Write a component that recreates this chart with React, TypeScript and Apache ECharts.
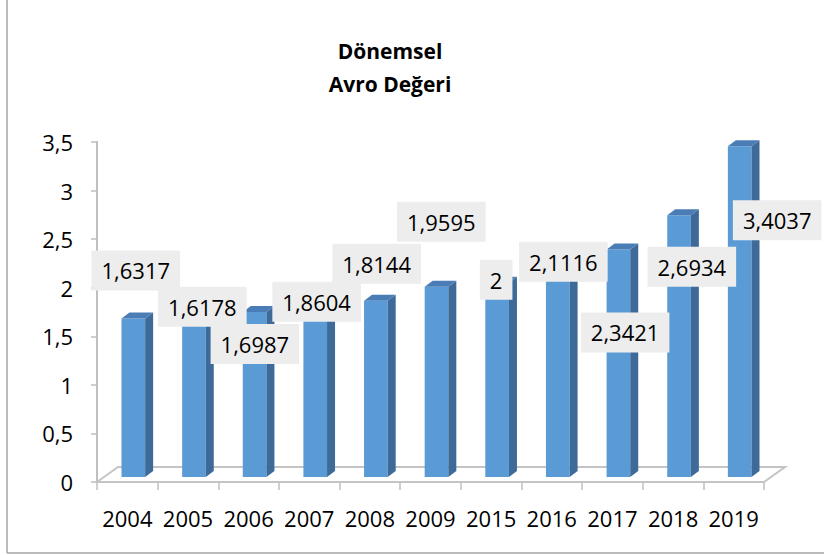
import React, { useEffect, useRef } from 'react';
import * as echarts from 'echarts';

const categories = ['2004', '2005', '2006', '2007', '2008', '2009', '2015', '2016', '2017', '2018', '2019'];
const values = [1.6317, 1.6178, 1.6987, 1.8604, 1.8144, 1.9595, 2, 2.1116, 2.3421, 2.6934, 3.4037];
const yMin = 0;
const yMax = 3.5;
const yInterval = 0.5;
const titleText = 'Dönemsel\nAvro Değeri';
// label centre offsets (px) relative to the top-front-centre of each bar
const labelOffsets = [
  [2.5, -48], [8.4, -13], [0.3, 32], [1.4, 5.5], [0.8, -37], [4.8, -65],
  [-1, -3], [5.6, -10], [6.7, 83], [12.8, 51.5], [37.5, 74],
];

const FONT = '"Open Sans", sans-serif';
const fmt = (v: number) => String(v).replace('.', ',');

export default function App() {
  const ref = useRef<HTMLDivElement>(null);
  useEffect(() => {
    const chart = echarts.init(ref.current!, null, { renderer: 'svg' });
    const shiftX = 6;
    const shiftY = -5;
    const depthX = 8;
    const depthY = -6;
    const floorDX = 21;
    const floorDY = -15;
    const data = values.map((v, i) => [i, v]);
    chart.setOption({
      animation: false,
      backgroundColor: '#ffffff',
      title: {
        text: titleText,
        left: 385,
        top: 29,
        textAlign: 'center',
        textStyle: { fontFamily: FONT, fontWeight: 'bold', fontSize: 21, lineHeight: 33, color: '#000' },
      },
      grid: { left: 97, right: 60, top: 142, bottom: 73 },
      xAxis: {
        type: 'category',
        data: categories,
        axisLine: { lineStyle: { color: '#BFBFBF', width: 2 } },
        axisTick: { show: true, length: 8, lineStyle: { color: '#BFBFBF', width: 1.5 } },
        axisLabel: { interval: 0, hideOverlap: false, fontFamily: FONT, fontSize: 22, color: '#000', margin: 25, lineHeight: 22 },
      },
      yAxis: {
        type: 'value',
        min: yMin,
        max: yMax,
        interval: yInterval,
        splitLine: { show: false },
        axisLine: { show: true, lineStyle: { color: '#BFBFBF', width: 2 } },
        axisTick: { show: true, length: 6, lineStyle: { color: '#BFBFBF', width: 1.5 } },
        axisLabel: { formatter: fmt, fontFamily: FONT, fontSize: 22, color: '#000', margin: 24 },
      },
      graphic: [
        { type: 'line', shape: { x1: 7, y1: 0, x2: 7, y2: 553 }, style: { stroke: '#A6A6A6', lineWidth: 1.5 } },
        { type: 'line', shape: { x1: 7, y1: 553, x2: 824, y2: 553 }, style: { stroke: '#A6A6A6', lineWidth: 1.5 } },
      ],
      series: [
        {
          type: 'custom',
          z: 1,
          clip: false,
          data: [[0, 0]],
          encode: { x: 0, y: 1 },
          renderItem: (params: any) => {
            const cs = params.coordSys;
            const x0 = cs.x;
            const y0 = cs.y + cs.height;
            const x1 = cs.x + cs.width;
            return {
              type: 'polygon',
              shape: { points: [[x0, y0], [x0 + floorDX, y0 + floorDY], [x1 + floorDX, y0 + floorDY], [x1, y0]] },
              style: { fill: '#ffffff', stroke: '#C4C4C4', lineWidth: 2 },
            };
          },
        },
        {
          type: 'custom',
          z: 2,
          clip: false,
          data,
          encode: { x: 0, y: 1 },
          renderItem: (params: any, api: any) => {
            const top = api.coord([api.value(0), api.value(1)]);
            const base = api.coord([api.value(0), 0]);
            const band = api.size([1, 0])[0];
            const w = band * 0.39;
            const cx = top[0] + shiftX;
            const xL = cx - w / 2;
            const xR = cx + w / 2;
            const yT = top[1] + shiftY;
            const yB = base[1] + shiftY;
            return {
              type: 'group',
              children: [
                { type: 'rect', shape: { x: xL, y: yT, width: w, height: yB - yT }, style: { fill: '#5B9BD5' } },
                {
                  type: 'polygon',
                  shape: { points: [[xR, yT], [xR + depthX, yT + depthY], [xR + depthX, yB + depthY], [xR, yB]] },
                  style: { fill: '#3D6A98' },
                },
                {
                  type: 'polygon',
                  shape: { points: [[xL, yT], [xL + depthX, yT + depthY], [xR + depthX, yT + depthY], [xR, yT]] },
                  style: { fill: '#4A7DB6' },
                },
              ],
            };
          },
        },
        {
          type: 'custom',
          z: 10,
          clip: false,
          data,
          encode: { x: 0, y: 1 },
          renderItem: (params: any, api: any) => {
            const idx = params.dataIndex;
            const pt = api.coord([api.value(0), api.value(1)]);
            const off = labelOffsets[idx];
            return {
              type: 'text',
              x: pt[0] + shiftX + off[0],
              y: pt[1] + shiftY + off[1],
              style: {
                text: fmt(api.value(1)),
                font: '22px "Open Sans", sans-serif',
                fill: '#000',
                align: 'center',
                verticalAlign: 'middle',
                backgroundColor: '#EDEDED',
                padding: [8, 10],
                lineHeight: 24,
              },
            };
          },
        },
      ],
    });
    return () => chart.dispose();
  }, []);
  return <div ref={ref} style={{ position: 'absolute', left: 0, top: 0, width: 824, height: 555 }} />;
}
